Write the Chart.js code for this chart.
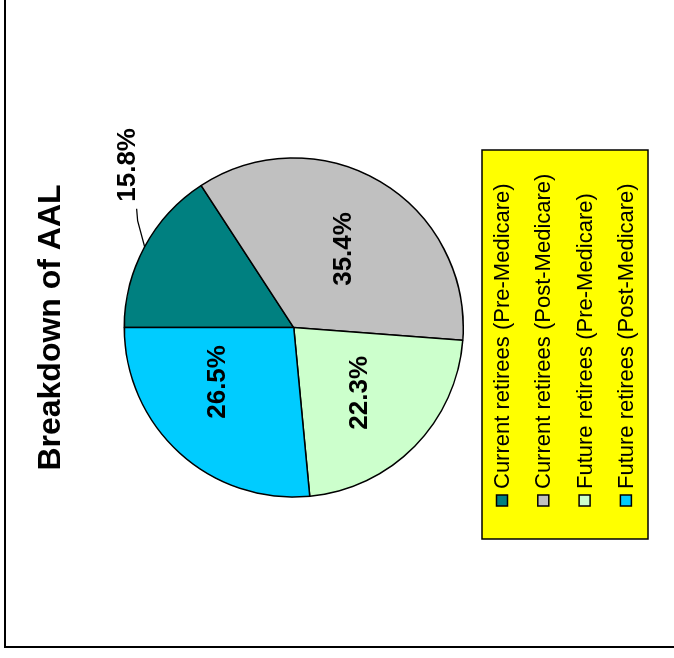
<!DOCTYPE html>
<html>
<head>
<meta charset="utf-8">
<title>Breakdown of AAL</title>
<script src="https://cdn.jsdelivr.net/npm/chart.js@4/dist/chart.umd.min.js"></script>
<style>
  html, body { margin: 0; padding: 0; background: #fff; overflow: hidden; }
  /* the whole sheet is printed turned on its side */
  #frame {
    position: absolute; left: 14px; top: -32px;
    width: 670px; height: 690px; box-sizing: border-box;
    border: 2px solid #000; background: #fff;
    transform: rotate(-90deg);
  }
  #frame canvas { display: block; }
</style>
</head>
<body>
<div id="frame"><canvas id="aal" width="666" height="686"></canvas></div>
<script>
const groups = [
  'Current retirees (Pre-Medicare)',
  'Current retirees (Post-Medicare)',
  'Future retirees (Pre-Medicare)',
  'Future retirees (Post-Medicare)'
];
const shares = [15.8, 35.4, 22.3, 26.5];
const colors = ['#008080', '#C0C0C0', '#CCFFCC', '#00CCFF'];

const FONT = '"Liberation Sans", Arial, Helvetica, sans-serif';

// percentage labels: inside the slice, or outside with a leader for thin ones
const sliceLabels = {
  id: 'sliceLabels',
  afterDatasetsDraw(chart, args, opts) {
    const ctx = chart.ctx;
    const values = chart.data.datasets[0].data;
    ctx.save();
    ctx.font = 'bold 26px ' + FONT;
    ctx.fillStyle = '#000';
    ctx.strokeStyle = '#000';
    ctx.textBaseline = 'middle';
    chart.getDatasetMeta(0).data.forEach((arc, i) => {
      const p = arc.getProps(['x', 'y', 'startAngle', 'endAngle', 'outerRadius'], true);
      const text = values[i].toFixed(1) + '%';
      const mid = (p.startAngle + p.endAngle) / 2;
      if (values[i] < opts.insideMin) {
        const ex = p.x + Math.cos(mid) * p.outerRadius;
        const ey = p.y + Math.sin(mid) * p.outerRadius;
        ctx.lineWidth = 1.2;
        ctx.beginPath();
        ctx.moveTo(ex, ey);
        ctx.lineTo(ex + 26, ey - 7);
        ctx.lineTo(ex + 38, ey - 8);
        ctx.stroke();
        ctx.textAlign = 'left';
        ctx.fillText(text, ex + 45, ey - 17);
      } else {
        const a = mid + (opts.nudge[i] || 0) * Math.PI / 180;
        const d = p.outerRadius * 0.55;
        ctx.textAlign = 'center';
        ctx.fillText(text, p.x + Math.cos(a) * d, p.y + Math.sin(a) * d);
      }
    });
    ctx.restore();
  }
};

// yellow boxed legend under the pie
const boxLegend = {
  id: 'boxLegend',
  afterDraw(chart, args, o) {
    const ctx = chart.ctx;
    const ds = chart.data.datasets[0];
    ctx.save();
    ctx.fillStyle = o.background;
    ctx.fillRect(o.left, o.top, o.width, o.height);
    ctx.lineWidth = 1.5;
    ctx.strokeStyle = '#000';
    ctx.strokeRect(o.left, o.top, o.width, o.height);
    ctx.font = '22px ' + FONT;
    ctx.textBaseline = 'middle';
    ctx.textAlign = 'left';
    chart.data.labels.forEach((label, i) => {
      const cy = o.top + o.firstRow + i * o.rowGap;
      ctx.fillStyle = ds.backgroundColor[i];
      ctx.fillRect(o.left + 33, cy - 5.5, 11, 11);
      ctx.lineWidth = 1.5;
      ctx.strokeRect(o.left + 33, cy - 5.5, 11, 11);
      ctx.fillStyle = '#000';
      ctx.fillText(label, o.left + 50, cy + 1);
    });
    ctx.restore();
  }
};

new Chart(document.getElementById('aal'), {
  type: 'pie',
  data: {
    labels: groups,
    datasets: [{
      data: shares,
      backgroundColor: colors,
      borderColor: '#000',
      borderWidth: 1.5
    }]
  },
  options: {
    responsive: false,
    animation: false,
    devicePixelRatio: 1,
    layout: { padding: { left: 148, right: 177, top: 0, bottom: 228 } },
    plugins: {
      title: {
        display: true,
        text: 'Breakdown of AAL',
        color: '#000',
        font: { family: FONT, size: 32, weight: 'bold', lineHeight: 1.2 },
        padding: { top: 26, bottom: 53 }
      },
      legend: { display: false },
      tooltip: { enabled: false },
      sliceLabels: { insideMin: 20, nudge: [0, 2, 0, 12] },
      boxLegend: {
        background: '#FFFF00',
        left: 107, top: 476, width: 389, height: 166,
        firstRow: 20, rowGap: 41.3
      }
    }
  },
  plugins: [sliceLabels, boxLegend]
});
</script>
</body>
</html>
